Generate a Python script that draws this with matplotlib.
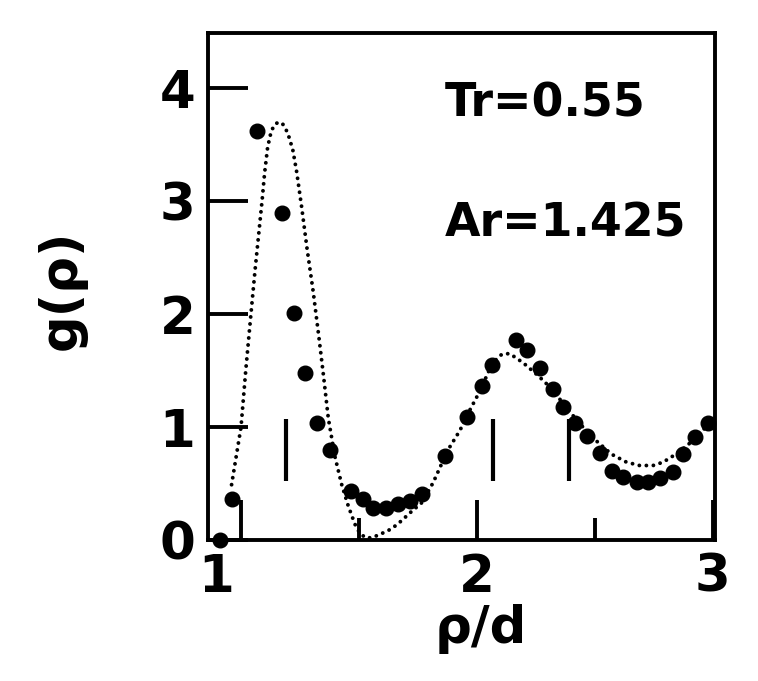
import matplotlib.pyplot as plt
import matplotlib.transforms as mtransforms

plt.rcParams['font.family'] = 'DejaVu Sans'
plt.rcParams['font.weight'] = 'bold'

# simulation points (filled circles)
rho_sim = [0.91, 0.963, 1.068, 1.172, 1.225, 1.271, 1.321, 1.377, 1.466, 1.517,
           1.559, 1.614, 1.665, 1.716, 1.769, 1.864, 1.96, 2.02, 2.062, 2.165,
           2.214, 2.266, 2.322, 2.364, 2.415, 2.466, 2.522, 2.574, 2.621, 2.677,
           2.726, 2.775, 2.832, 2.874, 2.924, 2.98]
g_sim = [0.0, 0.36, 3.62, 2.90, 2.01, 1.48, 1.035, 0.80, 0.435, 0.36,
         0.28, 0.28, 0.315, 0.345, 0.41, 0.745, 1.09, 1.36, 1.55, 1.77,
         1.68, 1.52, 1.34, 1.18, 1.04, 0.92, 0.77, 0.61, 0.555, 0.51,
         0.51, 0.55, 0.60, 0.76, 0.91, 1.04]

# theory curve (dotted)
rho_th = [0.96, 1.0, 1.02, 1.042, 1.06, 1.077, 1.09, 1.10, 1.113, 1.128,
          1.143, 1.158, 1.175, 1.19, 1.205, 1.22, 1.236, 1.257, 1.28, 1.306,
          1.33, 1.35, 1.37, 1.398, 1.427, 1.455, 1.483, 1.504, 1.528, 1.554,
          1.589, 1.639, 1.68, 1.716, 1.766, 1.815, 1.843, 1.878, 1.928, 1.97,
          2.013, 2.062, 2.09, 2.11, 2.14, 2.196, 2.26, 2.317, 2.373, 2.436,
          2.5, 2.571, 2.634, 2.69, 2.747, 2.79, 2.832, 2.888, 2.945, 2.995]
g_th = [0.49, 1.0, 1.5, 2.0, 2.4, 2.75, 3.02, 3.25, 3.48, 3.62,
        3.68, 3.70, 3.69, 3.64, 3.56, 3.45, 3.26, 2.95, 2.58, 2.2,
        1.8, 1.45, 1.08, 0.74, 0.49, 0.30, 0.14, 0.06, 0.02, 0.02,
        0.05, 0.10, 0.17, 0.24, 0.33, 0.51, 0.64, 0.80, 0.97, 1.15,
        1.32, 1.55, 1.62, 1.65, 1.65, 1.57, 1.455, 1.34, 1.19, 1.03,
        0.89, 0.76, 0.69, 0.66, 0.66, 0.69, 0.745, 0.83, 0.94, 1.06]

# neighbour shell positions (vertical bars)
shell_rho = [1.19, 2.07, 2.39]

fig = plt.figure(figsize=(7.58, 6.81), dpi=100)
ax = fig.add_axes([0.2744, 0.207, 0.669, 0.7445])

ax.plot(rho_th, g_th, color='black', linewidth=2.8, linestyle=(0, (0.01, 1.8)),
        dash_capstyle='round')
ax.plot(rho_sim, g_sim, 'o', color='black', markersize=10.5, clip_on=False)
ax.vlines(shell_rho, 0.52, 1.07, color='black', linewidth=3)

ax.text(0.466, 0.835, 'Tr=0.55', transform=ax.transAxes, fontsize=33,
        fontweight='bold')
ax.text(0.466, 0.598, 'Ar=1.425', transform=ax.transAxes, fontsize=33,
        fontweight='bold')

ax.set_xlim(0.86, 3.01)
ax.set_ylim(0, 4.49)
ax.set_xticks([1, 2, 3])
ax.set_xticks([1.5, 2.5], minor=True)
ax.set_yticks([0, 1, 2, 3, 4])
ax.tick_params(which='major', direction='in', length=29, width=2.8,
               labelsize=37, top=False, right=False)
ax.tick_params(axis='x', which='major', pad=9)
ax.tick_params(axis='y', which='major', pad=9)
ax.tick_params(which='minor', direction='in', length=16, width=2.8,
               top=False, right=False)
for s in ax.spines.values():
    s.set_linewidth(2.8)

offset = mtransforms.ScaledTranslation(-0.25, 0, fig.dpi_scale_trans)
lab1 = ax.get_xticklabels()[0]
lab1.set_transform(lab1.get_transform() + offset)

ax.set_xlabel('ρ/d', fontsize=37, fontweight='bold')
ax.xaxis.set_label_coords(0.538, -0.127)
ax.set_ylabel('g(ρ)', fontsize=37, fontweight='bold')
ax.yaxis.set_label_coords(-0.239, 0.493)

fig.savefig('out.png', dpi=100)
